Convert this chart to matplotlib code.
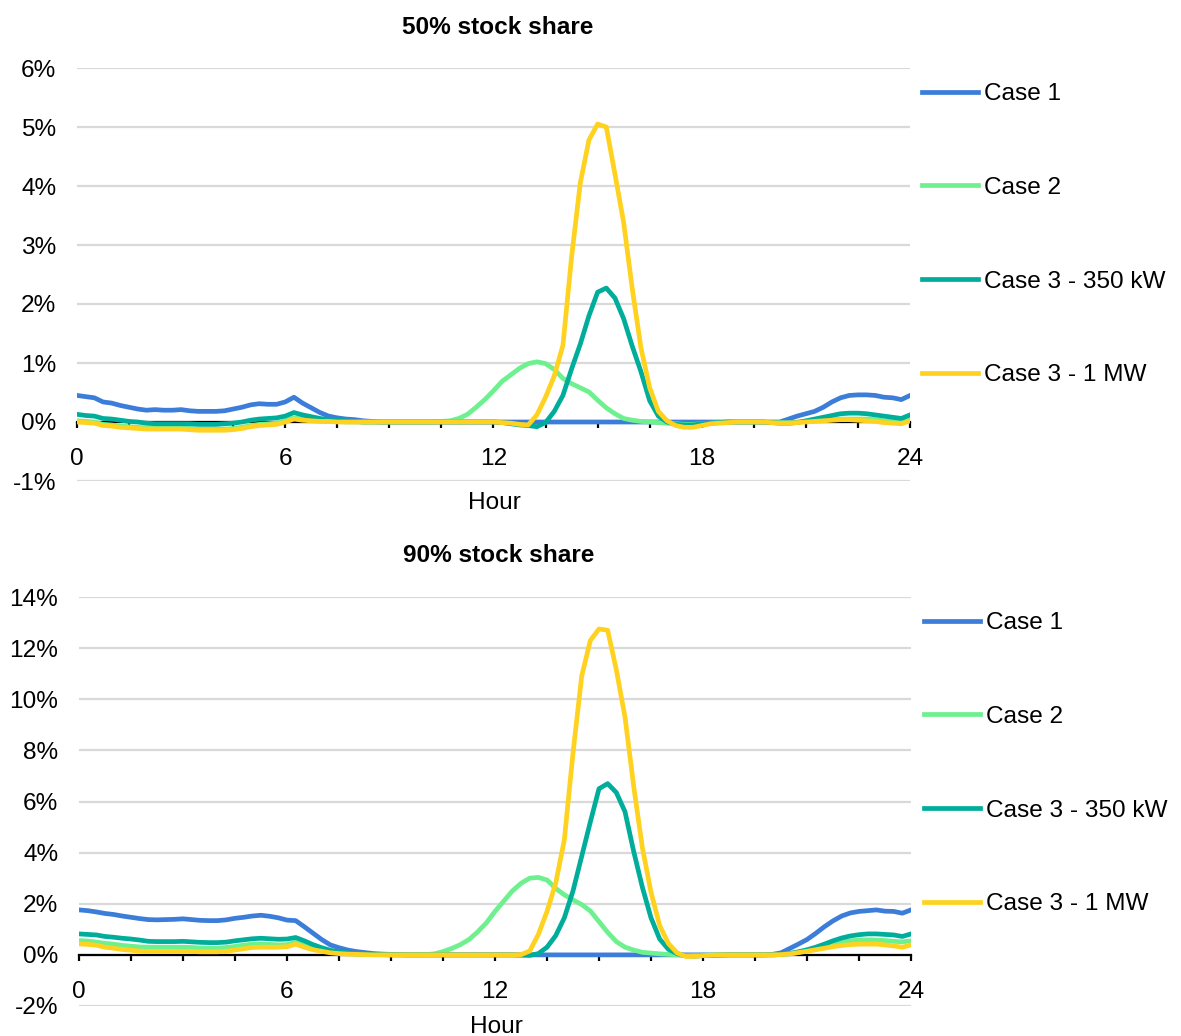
import matplotlib
matplotlib.use("Agg")
import matplotlib.pyplot as plt
import numpy as np
from matplotlib.ticker import FixedLocator, MultipleLocator, FuncFormatter

plt.rcParams['font.family'] = ['Liberation Sans', 'DejaVu Sans']

# ---------------- data (15-minute resolution, 0..24 h) ----------------
hours = np.arange(97) * 0.25
series_names = ["Case 1", "Case 2", "Case 3 - 350 kW", "Case 3 - 1 MW"]
series_colors = ["#3B7DD8", "#6EF08F", "#00AD9A", "#FFD21F"]
x_tick_labels = ["0", "6", "12", "18", "24"]

# 50% stock share (%)
top_case1 = [
    0.45, 0.43, 0.41, 0.34, 0.32, 0.28, 0.25, 0.22, 0.20, 0.21, 0.20, 0.20,
    0.21, 0.19, 0.18, 0.18, 0.18, 0.19, 0.22, 0.25, 0.29, 0.31, 0.30, 0.30,
    0.34, 0.42, 0.32, 0.24, 0.16, 0.10, 0.07, 0.05, 0.04, 0.02, 0.01, 0.00,
    0.00, 0.00, 0.00, 0.00, 0.00, 0.00, 0.00, 0.00, 0.00, 0.00, 0.00, 0.00,
    0.00, 0.00, 0.00, 0.00, 0.00, 0.00, 0.00, 0.00, 0.00, 0.00, 0.00, 0.00,
    0.00, 0.00, 0.00, 0.00, 0.00, 0.00, 0.00, 0.00, 0.00, 0.00, 0.00, 0.00,
    0.00, 0.00, 0.00, 0.00, 0.00, 0.00, 0.00, 0.00, 0.00, 0.00, 0.05, 0.10,
    0.14, 0.18, 0.25, 0.34, 0.41, 0.45, 0.46, 0.46, 0.45, 0.42, 0.41, 0.38,
    0.45]
top_case2 = [
    0.02, 0.01, 0.00, -0.04, -0.05, -0.07, -0.08, -0.09, -0.10, -0.10, -0.10, -0.10,
    -0.10, -0.11, -0.12, -0.12, -0.12, -0.12, -0.11, -0.09, -0.06, -0.04, -0.03, -0.02,
    0.02, 0.07, 0.05, 0.03, 0.02, 0.01, 0.01, 0.00, 0.00, 0.00, 0.00, 0.00,
    0.00, 0.00, 0.00, 0.00, 0.00, 0.00, 0.01, 0.02, 0.06, 0.13, 0.25, 0.38,
    0.53, 0.69, 0.80, 0.91, 0.99, 1.02, 0.99, 0.89, 0.74, 0.65, 0.58, 0.51,
    0.37, 0.24, 0.14, 0.06, 0.03, 0.01, 0.00, -0.01, -0.02, -0.03, -0.04, -0.04,
    -0.03, -0.02, -0.01, 0.00, 0.00, 0.00, 0.00, 0.00, -0.01, -0.01, -0.01, 0.00,
    0.01, 0.02, 0.03, 0.04, 0.05, 0.05, 0.05, 0.05, 0.04, 0.02, 0.01, 0.00,
    0.04]
top_case3_350 = [
    0.13, 0.11, 0.10, 0.06, 0.05, 0.03, 0.01, 0.00, -0.02, -0.03, -0.03, -0.03,
    -0.03, -0.03, -0.04, -0.04, -0.04, -0.03, -0.02, 0.00, 0.03, 0.05, 0.06, 0.07,
    0.10, 0.16, 0.12, 0.09, 0.06, 0.04, 0.03, 0.02, 0.01, 0.00, 0.00, 0.00,
    0.00, 0.00, 0.00, 0.00, 0.00, 0.00, 0.00, 0.00, 0.00, 0.00, 0.00, 0.00,
    0.00, -0.01, -0.03, -0.05, -0.06, -0.08, -0.01, 0.18, 0.45, 0.90, 1.32, 1.80,
    2.20, 2.27, 2.10, 1.75, 1.28, 0.85, 0.36, 0.10, 0.00, -0.04, -0.05, -0.05,
    -0.03, -0.02, -0.01, 0.00, 0.00, 0.00, 0.00, 0.00, -0.01, -0.02, -0.02, -0.01,
    0.02, 0.05, 0.08, 0.11, 0.14, 0.15, 0.15, 0.14, 0.12, 0.10, 0.08, 0.06,
    0.12]
top_case3_1mw = [
    0.00, -0.01, -0.02, -0.06, -0.07, -0.09, -0.10, -0.11, -0.12, -0.12, -0.12, -0.12,
    -0.12, -0.13, -0.14, -0.14, -0.14, -0.14, -0.13, -0.11, -0.08, -0.06, -0.05, -0.04,
    0.00, 0.05, 0.03, 0.02, 0.01, 0.01, 0.00, 0.00, 0.00, 0.00, 0.00, 0.00,
    0.00, 0.00, 0.00, 0.00, 0.00, 0.00, 0.00, 0.00, 0.00, 0.00, 0.00, 0.00,
    0.00, -0.01, -0.02, -0.04, -0.05, 0.12, 0.42, 0.78, 1.30, 2.80, 4.05, 4.78,
    5.05, 5.00, 4.20, 3.38, 2.25, 1.25, 0.58, 0.18, 0.02, -0.06, -0.09, -0.09,
    -0.06, -0.03, -0.02, -0.01, 0.00, 0.00, 0.00, 0.00, -0.01, -0.02, -0.02, -0.01,
    0.00, 0.01, 0.02, 0.03, 0.04, 0.04, 0.03, 0.02, 0.01, -0.01, -0.02, -0.03,
    0.02]

# 90% stock share (%)
bot_case1 = [
    1.76, 1.73, 1.68, 1.62, 1.58, 1.52, 1.47, 1.42, 1.38, 1.37, 1.38, 1.39,
    1.41, 1.38, 1.35, 1.34, 1.34, 1.37, 1.43, 1.47, 1.52, 1.55, 1.51, 1.45,
    1.36, 1.34, 1.10, 0.85, 0.60, 0.39, 0.28, 0.19, 0.13, 0.09, 0.05, 0.03,
    0.02, 0.01, 0.00, 0.00, 0.00, 0.00, 0.00, 0.00, 0.00, 0.00, 0.00, 0.00,
    0.00, 0.00, 0.00, 0.00, 0.00, 0.00, 0.00, 0.00, 0.00, 0.00, 0.00, 0.00,
    0.00, 0.00, 0.00, 0.00, 0.00, 0.00, 0.00, 0.00, 0.00, 0.00, 0.00, 0.00,
    0.00, 0.00, 0.00, 0.00, 0.00, 0.00, 0.00, 0.00, 0.02, 0.08, 0.25, 0.42,
    0.60, 0.84, 1.10, 1.33, 1.52, 1.64, 1.70, 1.73, 1.76, 1.71, 1.70, 1.63,
    1.76]
bot_case2 = [
    0.56, 0.54, 0.50, 0.45, 0.42, 0.37, 0.34, 0.31, 0.30, 0.30, 0.30, 0.30,
    0.30, 0.29, 0.27, 0.26, 0.26, 0.29, 0.33, 0.38, 0.42, 0.43, 0.41, 0.39,
    0.40, 0.50, 0.38, 0.28, 0.20, 0.13, 0.08, 0.05, 0.03, 0.02, 0.01, 0.01,
    0.00, 0.00, 0.00, 0.00, 0.01, 0.04, 0.13, 0.25, 0.40, 0.60, 0.90, 1.25,
    1.70, 2.10, 2.50, 2.80, 3.00, 3.03, 2.93, 2.60, 2.35, 2.15, 1.97, 1.72,
    1.30, 0.88, 0.52, 0.30, 0.19, 0.10, 0.07, 0.04, 0.02, 0.00, -0.02, -0.02,
    -0.01, 0.00, 0.00, 0.00, 0.00, 0.00, 0.00, 0.00, 0.00, 0.01, 0.04, 0.09,
    0.18, 0.27, 0.35, 0.44, 0.51, 0.55, 0.58, 0.59, 0.58, 0.56, 0.53, 0.51,
    0.55]
bot_case3_350 = [
    0.82, 0.80, 0.78, 0.72, 0.69, 0.65, 0.62, 0.58, 0.53, 0.52, 0.52, 0.52,
    0.53, 0.51, 0.49, 0.48, 0.48, 0.50, 0.55, 0.59, 0.63, 0.65, 0.63, 0.61,
    0.62, 0.68, 0.55, 0.40, 0.28, 0.18, 0.12, 0.08, 0.05, 0.03, 0.02, 0.01,
    0.00, 0.00, 0.00, 0.00, 0.00, 0.00, 0.00, 0.00, 0.00, 0.00, 0.00, 0.00,
    0.00, 0.00, 0.00, -0.01, -0.02, 0.05, 0.30, 0.75, 1.45, 2.50, 3.85, 5.20,
    6.50, 6.70, 6.35, 5.60, 4.05, 2.65, 1.45, 0.62, 0.22, 0.05, -0.04, -0.05,
    -0.03, -0.02, -0.01, 0.00, 0.00, 0.00, 0.00, 0.00, 0.00, 0.02, 0.06, 0.12,
    0.20, 0.30, 0.42, 0.55, 0.66, 0.74, 0.79, 0.82, 0.82, 0.80, 0.78, 0.72,
    0.82]
bot_case3_1mw = [
    0.43, 0.41, 0.38, 0.30, 0.26, 0.21, 0.18, 0.15, 0.13, 0.13, 0.13, 0.13,
    0.14, 0.13, 0.12, 0.12, 0.12, 0.14, 0.19, 0.24, 0.29, 0.30, 0.30, 0.30,
    0.32, 0.42, 0.30, 0.20, 0.14, 0.08, 0.05, 0.03, 0.02, 0.01, 0.00, 0.00,
    0.00, 0.00, 0.00, 0.00, 0.00, 0.00, 0.00, 0.00, 0.00, 0.00, 0.00, 0.00,
    0.00, 0.00, 0.00, 0.01, 0.15, 0.80, 1.70, 2.80, 4.50, 7.90, 10.90, 12.30,
    12.75, 12.70, 11.15, 9.30, 6.60, 4.20, 2.45, 1.15, 0.45, 0.08, -0.06, -0.06,
    -0.03, -0.01, 0.00, 0.00, 0.00, 0.00, 0.00, 0.00, 0.00, 0.01, 0.04, 0.09,
    0.14, 0.20, 0.26, 0.32, 0.37, 0.40, 0.42, 0.42, 0.42, 0.39, 0.35, 0.30,
    0.39]

top_series = [top_case1, top_case2, top_case3_350, top_case3_1mw]
bot_series = [bot_case1, bot_case2, bot_case3_350, bot_case3_1mw]

# ---------------- figure ----------------
W, H = 1181, 1036
fig = plt.figure(figsize=(W / 100, H / 100), dpi=100)
FS = 17.6


def px_rect(x0, x1, ytop, ybot):
    return [x0 / W, 1 - ybot / H, (x1 - x0) / W, (ybot - ytop) / H]


ax_top = fig.add_axes(px_rect(77, 910, 68, 481))
ax_bot = fig.add_axes(px_rect(79, 911, 597, 1006))

pct = FuncFormatter(lambda v, _: f"{v:.0f}%")


def style(ax, series, ylim, ystep, title, title_xy, hour_xy, leg_xy):
    for vals, name, col in zip(series, series_names, series_colors):
        ax.plot(hours, vals, color=col, lw=3.4, label=name,
                solid_joinstyle='round', zorder=3)
    ax.set_xlim(0, 24)
    ax.set_ylim(*ylim)
    ax.yaxis.set_major_locator(MultipleLocator(ystep))
    ax.yaxis.set_major_formatter(pct)
    ax.yaxis.grid(True, color='#D9D9D9', lw=1.6)
    ax.set_axisbelow(True)
    for s in ('left', 'right', 'top'):
        ax.spines[s].set_visible(False)
    sp = ax.spines['bottom']
    sp.set_position(('data', 0))
    sp.set_color('black')
    sp.set_linewidth(1.6)
    sp.set_zorder(1.5)
    ax.xaxis.set_major_locator(FixedLocator([0, 6, 12, 18, 24]))
    ax.set_xticklabels(x_tick_labels)
    ax.xaxis.set_minor_locator(MultipleLocator(1.5))
    ax.tick_params(axis='x', which='both', direction='out', length=4.5,
                   width=1.6, color='black')
    ax.tick_params(axis='x', which='major', labelsize=FS, pad=14.5)
    ax.tick_params(axis='y', length=0, labelsize=FS, pad=15)
    fig.text(title_xy[0] / W, 1 - title_xy[1] / H, title, fontsize=FS,
             fontweight='bold', ha='center', va='center')
    fig.text(hour_xy[0] / W, 1 - hour_xy[1] / H, "Hour", fontsize=FS,
             ha='center', va='center')
    h, l = ax.get_legend_handles_labels()
    fig.legend(h, l, loc='upper left',
               bbox_to_anchor=(leg_xy[0] / W, 1 - leg_xy[1] / H),
               frameon=False, fontsize=FS, borderpad=0, borderaxespad=0,
               handlelength=2.3, handletextpad=0.25, labelspacing=2.93)


style(ax_top, top_series, (-1, 6), 1, "50% stock share", (498, 27), (494, 503), (922, 83))
style(ax_bot, bot_series, (-2, 14), 2, "90% stock share", (499, 556), (496, 1027), (924, 612))

fig.savefig("out.png", dpi=100)
